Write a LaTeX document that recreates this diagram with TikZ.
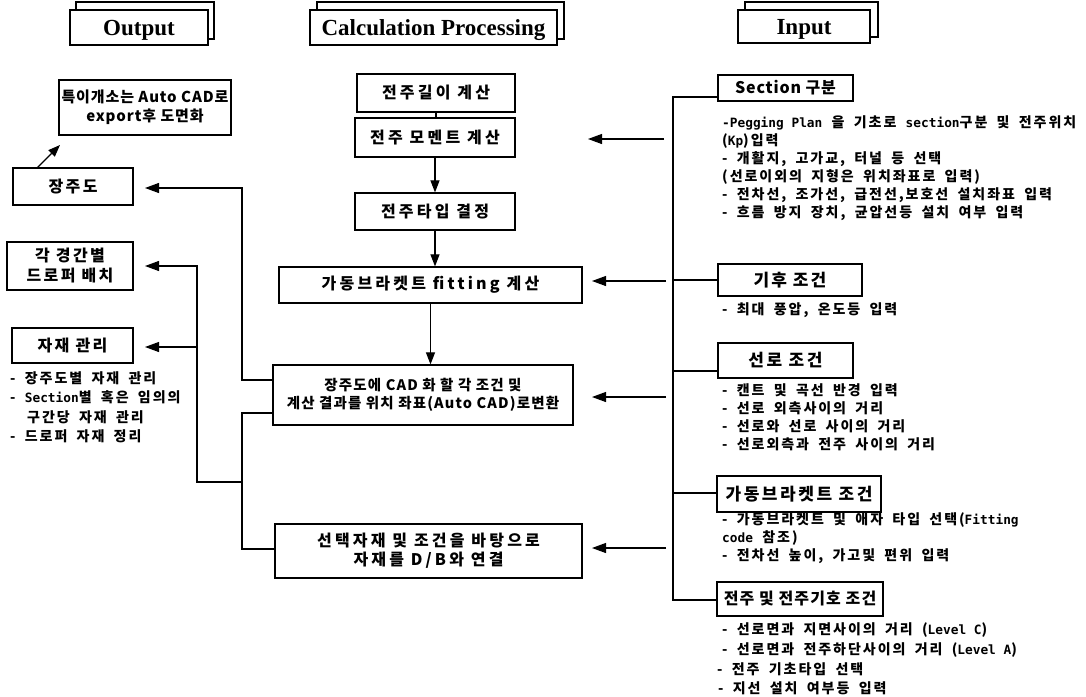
\documentclass[tikz,border=0pt]{standalone}
\usepackage{fontspec}
\setmainfont{Liberation Serif}
\newfontfamily\kr{Noto Sans CJK KR}
\newfontfamily\krw[LetterSpace=14,WordSpace=1.8]{Noto Sans CJK KR}
\newfontfamily\monofam{DejaVu Sans Mono}
\usetikzlibrary{arrows.meta}
\newcommand\kf[2]{\kr\bfseries\fontsize{#1}{#1}\selectfont\addfontfeature{LetterSpace=#2}}
\newcommand\kb{\krw\bfseries\fontsize{14}{14}\selectfont}
\newcommand\mn[1]{{\monofam\bfseries\fontsize{12.8}{12.8}\selectfont #1}}
\begin{document}
\begin{tikzpicture}[x=1pt,y=-1pt,
  box/.style={draw,line width=1.2pt,fill=white,inner sep=0pt,align=center},
  hdr/.style={box,text depth=0pt,font=\fontsize{23}{23}\selectfont\bfseries},
  back/.style={draw,line width=1.2pt},
  ctr/.style={box,font=\kf{16}{20}},
  lbox/.style={box,font=\kf{16}{15}},
  rbox/.style={box,font=\kf{17}{12}},
  bul/.style={inner sep=0pt,anchor=west,font=\kb},
  ln/.style={line width=1.1pt},
  arr/.style={line width=1.1pt,-{Triangle[length=14pt,width=10pt]}},
  varr/.style={line width=1.1pt,-{Triangle[length=12pt,width=9pt]}}]
\useasboundingbox (0,0) rectangle (1086,696);

% headers
\draw[back] (76,2) rectangle (214,39);
\node[hdr,minimum width=138,minimum height=35] (hout) at (139,27.5) {Output};
\draw[back] (317,2) rectangle (564,39);
\node[hdr,minimum width=247,minimum height=35] (hcalc) at (433.5,27.5) {Calculation Processing};
\draw[back] (745,2) rectangle (878,37);
\node[hdr,minimum width=132,minimum height=33] (hin) at (804,26.5) {Input};

% center column
\node[ctr,minimum width=158,minimum height=38] (len) at (436,93) {전주길이 계산};
\node[ctr,minimum width=160,minimum height=39] (mom) at (435,137.5) {전주 모멘트 계산};
\node[ctr,minimum width=160,minimum height=37] (typ) at (435,211.5) {전주타입 결정};
\node[ctr,minimum width=303,minimum height=36] (fit) at (430.5,285) {가동브라켓트 fitting 계산};
\node[box,minimum width=300,minimum height=60,font=\kf{14.5}{8}] (cad) at (423,395)
  {장주도에 CAD 화 할 각 조건 및\\[3pt]계산 결과를 위치 좌표(Auto CAD)로변환};
\node[box,minimum width=307,minimum height=54,font=\kf{16}{20}] (db) at (428.5,551)
  {선택자재 및 조건을 바탕으로\\[3pt]자재를 D/B와 연결};

\draw[ln] (len.south) -- (len.south |- mom.north);
\draw[varr] (mom.south) -- (typ.north);
\draw[varr] (typ.south) -- (typ.south |- fit.north);
\draw[varr] (fit.south) -- (fit.south |- cad.north);

% left column
\node[box,minimum width=172,minimum height=55,font=\kf{15}{6}] (exp) at (145,107.5)
  {특이개소는 Auto CAD로\\[4pt]export후 도면화};
\node[lbox,minimum width=120,minimum height=37] (jang) at (73,186.5) {장주도};
\node[lbox,minimum width=126,minimum height=48] (drop) at (70,266) {각 경간별\\[4pt]드로퍼 배치};
\node[lbox,minimum width=121,minimum height=35] (mat) at (72.5,345.5) {자재 관리};
\node[bul] (m1) at (10,378) {- 장주도별 자재 관리};
\node[bul] (m2) at (10,397) {- \mn{Section}별 혹은 임의의};
\node[bul] (m3) at (27,417) {구간당 자재 관리};
\node[bul] (m4) at (10,436) {- 드로퍼 자재 정리};

\coordinate (j0) at (37,168);
\coordinate (j1) at (60,145);
\draw[varr] (j0) -- (j1);

\coordinate (l1) at (242,380);
\coordinate (jtip) at (145,188);
\draw[arr] (cad.west |- l1) -- (l1) |- (jtip);
\coordinate (l2) at (242,413);
\coordinate (l3) at (242,549);
\draw[ln] (cad.west |- l2) -- (l2) -- (l3) -- (l3 -| db.west);
\coordinate (l4) at (242,482);
\coordinate (l5) at (197,482);
\coordinate (dtip) at (145,266);
\draw[arr] (l4) -- (l5) |- (dtip);
\coordinate (l6) at (197,347);
\coordinate (mtip) at (145,347);
\draw[arr] (l6) -- (mtip);

% right column
\node[rbox,minimum width=135,minimum height=26,font=\kf{16}{5}] (sec) at (785.5,88) {Section 구분};
\node[bul] (s1) at (722,123) {\mn{-Pegging Plan} 을 기초로 \mn{section}구분 및 전주위치};
\node[bul] (s2) at (722,141) {(\mn{Kp})입력};
\node[bul] (s3) at (722,159) {- 개활지, 고가교, 터널 등 선택};
\node[bul] (s4) at (722,177) {(선로이외의 지형은 위치좌표로 입력)};
\node[bul] (s5) at (722,195) {- 전차선, 조가선, 급전선,보호선 설치좌표 입력};
\node[bul] (s6) at (722,213) {- 흐름 방지 장치, 균압선등 설치 여부 입력};

\node[rbox,minimum width=144,minimum height=32] (cli) at (790,280) {기후 조건};
\node[bul] (c1) at (722,310) {- 최대 풍압, 온도등 입력};

\node[rbox,minimum width=135,minimum height=35,font=\kf{17}{15}] (line) at (785.5,360.5) {선로 조건};
\node[bul] (n1) at (722,390) {- 캔트 및 곡선 반경 입력};
\node[bul] (n2) at (722,408) {- 선로 외측사이의 거리};
\node[bul] (n3) at (722,426) {- 선로와 선로 사이의 거리};
\node[bul] (n4) at (722,444) {- 선로외측과 전주 사이의 거리};

\node[rbox,minimum width=164,minimum height=36,font=\kf{17}{15}] (brk) at (799,494) {가동브라켓트 조건};
\node[bul] (b1) at (722,520) {- 가동브라켓트 및 애자 타입 선택(\mn{Fitting}};
\node[bul] (b2) at (722,538) {\mn{code} 참조)};
\node[bul] (b3) at (722,556) {- 전차선 높이, 가고및 편위 입력};

\node[rbox,minimum width=166,minimum height=34,font=\kf{16}{7}] (pole) at (800,599) {전주 및 전주기호 조건};
\node[bul] (p1) at (722,630) {- 선로면과 지면사이의 거리 (\mn{Level C})};
\node[bul] (p2) at (722,650) {- 선로면과 전주하단사이의 거리 (\mn{Level A})};
\node[bul] (p3) at (717,669) {- 전주 기초타입 선택};
\node[bul] (p4) at (718,688) {- 지선 설치 여부등 입력};

\coordinate (rt) at (673,97);
\coordinate (rb) at (673,600);
\draw[ln] (sec.west |- rt) -- (rt) -- (rb) -- (rb -| pole.west);
\draw[ln] (rt |- cli.west) -- (cli.west);
\coordinate (r3) at (673,371);
\draw[ln] (r3) -- (r3 -| line.west);
\coordinate (r4) at (673,493);
\draw[ln] (r4) -- (r4 -| brk.west);

\coordinate (a1) at (664,139);
\coordinate (t1) at (588,139);
\draw[arr] (a1) -- (t1);
\coordinate (a2) at (666,281);
\coordinate (t2) at (592,281);
\draw[arr] (a2) -- (t2);
\coordinate (a3) at (666,397);
\coordinate (t3) at (592,397);
\draw[arr] (a3) -- (t3);
\coordinate (a4) at (666,548);
\coordinate (t4) at (592,548);
\draw[arr] (a4) -- (t4);
\end{tikzpicture}
\end{document}
